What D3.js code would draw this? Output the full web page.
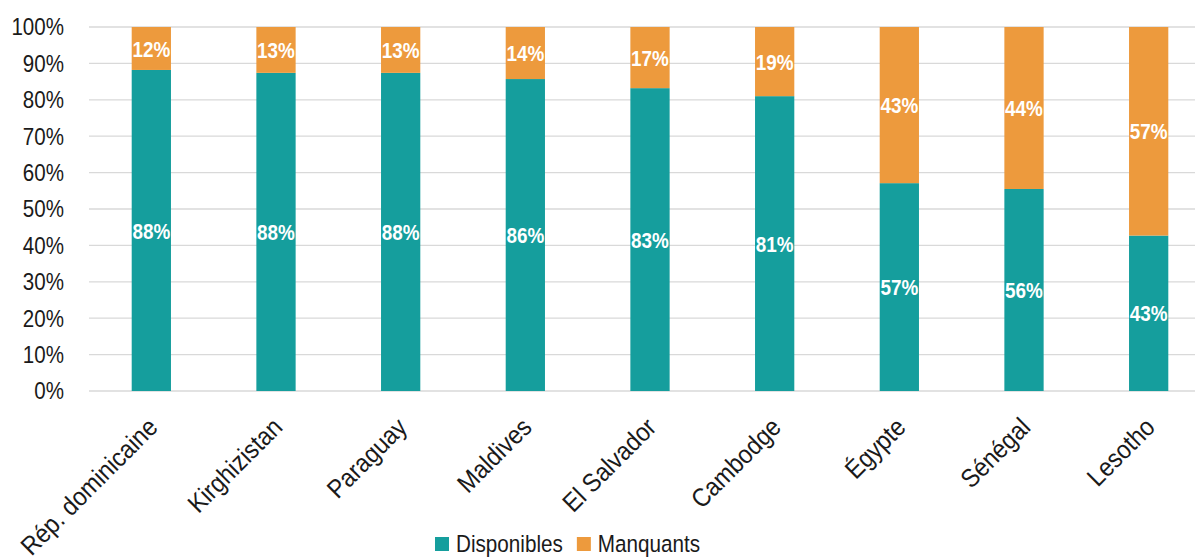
<!DOCTYPE html>
<html>
<head>
<meta charset="utf-8">
<script src="https://cdn.jsdelivr.net/npm/d3@7"></script>
<style>
  body { margin: 0; background: #fff; }
  svg { display: block; font-family: "Liberation Sans", Arial, sans-serif; }
</style>
</head>
<body>
<svg id="chart" width="1195" height="559"></svg>
<script>
const countries = ["Rép. dominicaine", "Kirghizistan", "Paraguay", "Maldives", "El Salvador", "Cambodge", "Égypte", "Sénégal", "Lesotho"];
const disponibles = [88.2, 87.4, 87.4, 85.7, 83.2, 81.0, 57.1, 55.5, 42.7];
const labelsDispo = ["88%", "88%", "88%", "86%", "83%", "81%", "57%", "56%", "43%"];
const labelsManq = ["12%", "13%", "13%", "14%", "17%", "19%", "43%", "44%", "57%"];
const yTicks = [0, 10, 20, 30, 40, 50, 60, 70, 80, 90, 100];

const colors = { dispo: "#159e9d", manq: "#ed9a3d" };
const narrow = 0.84;                                             // fake Arial Narrow by squeezing text

const margin = { left: 89, top: 27 };
const plotW = 1122, plotH = 364;                                 // plot runs past the right edge, as in the source

const svg = d3.select("#chart");
const g = svg.append("g").attr("transform", `translate(${margin.left},${margin.top})`);

const x = d3.scaleBand().domain(countries).range([0, plotW]).paddingInner(0.685).paddingOuter(0.3425);
const y = d3.scaleLinear().domain([0, 100]).range([plotH, 0]);

// gridlines
g.append("g")
  .selectAll("line")
  .data(yTicks)
  .join("line")
    .attr("x1", 0).attr("x2", plotW)
    .attr("y1", d => y(d)).attr("y2", d => y(d))
    .attr("stroke", "#d9d9d9").attr("stroke-width", 1.3);

// y axis labels
const yAxis = g.append("g").call(d3.axisLeft(y).tickValues(yTicks).tickFormat(d => d + "%").tickSize(0).tickPadding(0));
yAxis.select(".domain").remove();
yAxis.selectAll("text")
  .attr("x", -25 / narrow)
  .attr("transform", `scale(${narrow},1)`)
  .attr("font-size", 24.5).attr("fill", "#1a1a1a").attr("font-family", null);

// stacked bars
const bars = g.append("g").selectAll("g").data(countries).join("g");
bars.append("rect")
  .attr("x", d => x(d)).attr("width", x.bandwidth())
  .attr("y", (d, i) => y(disponibles[i])).attr("height", (d, i) => plotH - y(disponibles[i]))
  .attr("fill", colors.dispo);
bars.append("rect")
  .attr("x", d => x(d)).attr("width", x.bandwidth())
  .attr("y", y(100)).attr("height", (d, i) => y(disponibles[i]) - y(100))
  .attr("fill", colors.manq);

// value labels
function valueLabel(sel, yPos, texts) {
  sel.append("text")
    .attr("transform", (d, i) => `translate(${x(d) + x.bandwidth() / 2},${yPos(i)}) scale(${narrow},1)`)
    .attr("dy", "0.36em").attr("text-anchor", "middle")
    .attr("fill", "#fff").attr("font-weight", "bold").attr("font-size", 22.5)
    .text((d, i) => texts[i]);
}
valueLabel(bars, i => (y(0) + y(disponibles[i])) / 2, labelsDispo);
valueLabel(bars, i => (y(100) + y(disponibles[i])) / 2, labelsManq);

// category labels, rotated
g.append("g").selectAll("text").data(countries).join("text")
  .attr("transform", d => `translate(${x(d) + x.bandwidth() / 2 - 5},${plotH + 25}) rotate(-45) scale(0.9,1)`)
  .attr("text-anchor", "end").attr("dy", "0.7em")
  .attr("font-size", 26).attr("fill", "#1a1a1a")
  .text(d => d);

// legend
const legendItems = [["Disponibles", colors.dispo], ["Manquants", colors.manq]];
const legend = svg.append("g").attr("transform", "translate(435,537)");
let lx = 0;
legendItems.forEach(([name, col]) => {
  const item = legend.append("g").attr("transform", `translate(${lx},0)`);
  item.append("rect").attr("width", 14).attr("height", 14).attr("fill", col);
  const t = item.append("text").attr("transform", "translate(21,7) scale(0.88,1)").attr("dy", "0.36em")
    .attr("font-size", 23.5).attr("fill", "#1a1a1a").text(name);
  lx += 21 + t.node().getComputedTextLength() * 0.88 + 14;
});
</script>
</body>
</html>
